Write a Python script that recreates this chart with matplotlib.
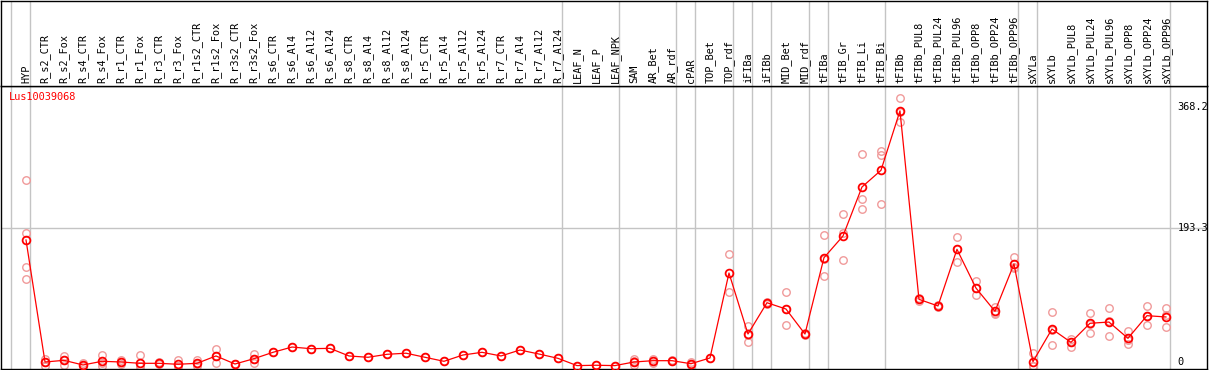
import matplotlib
matplotlib.use("Agg")
import matplotlib.pyplot as plt
import numpy as np
from matplotlib.transforms import offset_copy

gene = "Lus10039068"

samples = ["HYP",
           "R_s2_CTR", "R_s2_Fox", "R_s4_CTR", "R_s4_Fox", "R_r1_CTR", "R_r1_Fox",
           "R_r3_CTR", "R_r3_Fox", "R_r1s2_CTR", "R_r1s2_Fox", "R_r3s2_CTR", "R_r3s2_Fox",
           "R_s6_CTR", "R_s6_Al4", "R_s6_Al12", "R_s6_Al24", "R_s8_CTR", "R_s8_Al4",
           "R_s8_Al12", "R_s8_Al24", "R_r5_CTR", "R_r5_Al4", "R_r5_Al12", "R_r5_Al24",
           "R_r7_CTR", "R_r7_Al4", "R_r7_Al12", "R_r7_Al24",
           "LEAF_N", "LEAF_P", "LEAF_NPK",
           "SAM", "AR_Bet", "AR_rdf", "cPAR", "TOP_Bet", "TOP_rdf", "iFIBa", "iFIBb",
           "MID_Bet", "MID_rdf", "tFIBa", "tFIB_Gr", "tFIB_Li", "tFIB_Bi",
           "tFIBb", "tFIBb_PUL8", "tFIBb_PUL24", "tFIBb_PUL96", "tFIBb_OPP8",
           "tFIBb_OPP24", "tFIBb_OPP96",
           "sXYLa", "sXYLb", "sXYLb_PUL8", "sXYLb_PUL24", "sXYLb_PUL96", "sXYLb_OPP8",
           "sXYLb_OPP24", "sXYLb_OPP96"]

# number of samples in each block separated by a grey line
group_sizes = [1, 28, 3, 3, 1, 2, 1, 1, 2, 1, 3, 7, 1, 7]

means = [181.7,
         5.5, 7.9, 1.2, 6.5, 5.5, 3.6, 3.6, 2.2, 3.6, 14.2, 2.6, 10.3,
         19.5, 27.1, 24.7, 25.2, 14.2, 12.3, 16.6, 18.2, 12.3, 6.5, 15.6, 19.5,
         14.2, 22.8, 17.0, 10.8,
         0.3, 0.8, 0.3,
         5.5, 7.4, 7.4, 3.0, 11.3, 134.0, 45.9, 91.1, 82.0, 45.9,
         156.1, 187.4, 258.2, 282.3,
         368.2, 96.0, 86.4, 168.2, 112.3, 78.7, 147.0,
         6.0, 53.1, 33.9, 61.4, 63.2, 39.7, 72.4, 70.5]

replicates = [[268.3, 191.3, 142.2, 124.9],
              [10.3, 6.0, 0.2], [14.2, 8.3, 1.2], [4.0, 0.0, 0.0], [15.2, 4.3, 0.0],
              [8.0, 5.5, 3.0], [15.2, 0.0, 0.0, 0.0], [5.0, 3.6, 2.2], [7.9, 0.0, 0.0],
              [7.9, 3.0, 0.0], [24.7, 14.2, 3.6], [3.0, 2.2], [16.6, 10.3, 4.5],
              [19.5], [27.1], [24.7], [25.2], [14.2], [12.3], [16.6], [18.2],
              [12.3], [6.5], [15.6], [19.5], [14.2], [22.8], [17.0], [10.8],
              [0.3], [0.8], [0.3],
              [9.4, 6.5, 0.5], [10.3, 7.4, 4.5], [8.5, 6.5], [5.5, 3.0, 0.5], [11.3],
              [161.4, 106.6], [57.9, 45.0, 34.8], [92.5, 89.7], [106.6, 82.0, 58.5],
              [47.5, 44.3],
              [188.4, 153.8, 129.2], [218.7, 191.3, 152.3], [305.4, 240.4, 226.0],
              [310.6, 304.4, 233.2],
              [386.2, 366.8, 351.6], [98.0, 94.0], [87.5, 85.3], [186.0, 168.2, 149.4],
              [122.5, 112.3, 101.8], [85.4, 76.3, 74.4], [157.6, 142.6, 140.8],
              [18.0, 0.0, 0.0], [77.7, 52.0, 29.6], [39.1, 35.0, 27.6],
              [76.2, 60.6, 47.4], [83.0, 64.0, 42.6], [50.7, 37.4, 31.0],
              [86.4, 72.3, 58.5], [83.0, 72.9, 55.6]]

scale_values = [368.2, 193.3, 0]
scale_labels = ["368.2", "193.3", "0"]

W, H = 1209, 370
MONO = "DejaVu Sans Mono"
GRID = "#c4c4c4"


def px_rect(x0, y0, x1, y1):
    return [x0 / W, 1 - y1 / H, (x1 - x0) / W, (y1 - y0) / H]


fig = plt.figure(figsize=(W / 100, H / 100), dpi=100)
ax = fig.add_axes(px_rect(1, 86, 1207, 369))
hx = fig.add_axes(px_rect(1, 0.5, 1207, 86), sharex=ax)

x = np.arange(len(samples))
ax.set_xlim(-1.316, 62.16)
ax.set_ylim(-9.67, 399.0)

for a in (ax, hx):
    a.set_xticks([])
    a.set_yticks([])
    for s in a.spines.values():
        s.set_color("black")
        s.set_linewidth(1.0)

# group separators
bounds = np.cumsum([0] + group_sizes) - 1
for b in bounds:
    ax.axvline(b + 0.22, color=GRID, lw=1.0, zorder=0)
    hx.axvline(b + 0.22, color=GRID, lw=1.0, zorder=0)
ax.axhline(scale_values[1], color=GRID, lw=1.0, zorder=0)

# markers are drawn a few pixels below their value, as in the original viewer
mtr = offset_copy(ax.transData, fig=fig, x=0, y=-3.5, units="dots")

for i, reps in enumerate(replicates):
    ax.plot([i] * len(reps), reps, "o", ms=5.4, mfc="none", mec="#f09a9a",
            mew=1.0, transform=mtr, zorder=2)

ax.plot(x, means, "-", color="red", lw=0.9, transform=mtr, zorder=3)
ax.plot(x, means, "o", ms=5.6, mfc="none", mec="red", mew=1.3,
        transform=mtr, zorder=4)

for v, lab in zip(scale_values, scale_labels):
    ax.text(0.9755, v, lab, transform=ax.get_yaxis_transform(), ha="left",
            va="center", fontsize=7.4, family=MONO, color="black", clip_on=False)

ax.text(0.0069, 0.961, gene, transform=ax.transAxes, ha="left", va="center",
        fontsize=7.4, family=MONO, color="red")

for i, name in enumerate(samples):
    hx.text(i, 0.035, name, transform=hx.get_xaxis_transform(), rotation=90,
            ha="center", va="bottom", fontsize=7.4, family=MONO, color="black")

fig.savefig("out.png", dpi=100)
